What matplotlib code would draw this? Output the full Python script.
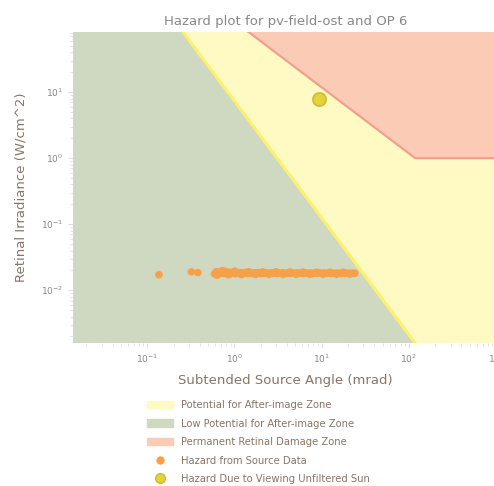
import numpy as np
import matplotlib.pyplot as plt
from matplotlib.patches import Patch
from matplotlib.lines import Line2D

# glare data: subtended source angle (mrad) and retinal irradiance (W/cm^2)
glare_angle = [0.136, 0.32, 0.38,
               0.59, 0.62, 0.66, 0.70, 0.74, 0.78, 0.82, 0.87, 0.92, 0.97,
               1.02, 1.08, 1.14, 1.20, 1.27, 1.34, 1.42, 1.50, 1.58, 1.67,
               1.76, 1.86, 1.97, 2.08, 2.2, 2.32, 2.45, 2.6, 2.75, 2.9, 3.05,
               3.25, 3.45, 3.65, 3.85, 4.1, 4.35, 4.6, 4.9, 5.2, 5.5, 5.8,
               6.2, 6.6, 7.0, 7.4, 7.9, 8.4, 8.9, 9.5, 10.1, 10.7, 11.4, 12.1,
               12.9, 13.7, 14.6, 15.5, 16.5, 17.6, 18.7, 19.9, 21.2, 22.6, 24.0,
               0.63, 0.72, 0.85, 1.0, 1.2, 1.45, 1.75, 2.1, 2.5, 3.0, 3.6,
               4.3, 5.1, 6.1, 7.3, 8.7, 10.4, 12.4, 14.8, 17.6, 21.0]
glare_irr = [0.0172, 0.0190, 0.0185,
             0.0178, 0.0192, 0.0176, 0.0190, 0.0180, 0.0194, 0.0177, 0.0188,
             0.0179, 0.0186, 0.0178, 0.0187, 0.0180, 0.0185, 0.0179, 0.0186,
             0.0180, 0.0185, 0.0179, 0.0184, 0.0180, 0.0185, 0.0179, 0.0184,
             0.0180, 0.0184, 0.0179, 0.0184, 0.0180, 0.0184, 0.0179, 0.0183,
             0.0180, 0.0184, 0.0179, 0.0183, 0.0180, 0.0184, 0.0179, 0.0183,
             0.0180, 0.0183, 0.0179, 0.0183, 0.0180, 0.0183, 0.0179, 0.0183,
             0.0180, 0.0183, 0.0179, 0.0183, 0.0180, 0.0183, 0.0179, 0.0182,
             0.0180, 0.0183, 0.0179, 0.0182, 0.0180, 0.0182, 0.0180, 0.0182,
             0.0181,
             0.0170, 0.0198, 0.0172, 0.0195, 0.0173, 0.0191, 0.0174, 0.0190,
             0.0174, 0.0190, 0.0174, 0.0189, 0.0175, 0.0189, 0.0175, 0.0188,
             0.0175, 0.0188, 0.0175, 0.0188, 0.0176]

# unfiltered sun
sun_angle = [9.3]
sun_irr = [8.0]

# thresholds
flash_coef, flash_exp = 3.59e-5, 1.77   # after-image, omega in rad
burn_coef, burn_kink = 118.0, 118.0      # retinal burn, omega in mrad

xlim = (10 ** -1.85, 10 ** 3.02)
ylim = (10 ** -2.8, 10 ** 1.91)

txt = '#8a7566'
fig = plt.figure(figsize=(4.94, 4.86), dpi=100)
ax = fig.add_axes([0.148, 0.294, 0.86, 0.64])
ax.set_xscale('log')
ax.set_yscale('log')

w = np.logspace(-2, 3.2, 400)
flash = flash_coef * (w / 1000.0) ** (-flash_exp)
burn = np.where(w < burn_kink, burn_coef / w, 1.0)

ax.fill_between(w, 1e-4, flash, color='#cfd9c2', lw=0, zorder=1)
ax.fill_between(w, flash, burn, where=flash < burn, color='#fffac4', lw=0, zorder=1)
ax.fill_between(w, burn, 1e4, color='#fbcbb5', lw=0, zorder=1)
ax.fill_between(w, np.minimum(flash, burn), 1e4, where=flash > burn,
                color='#fbcbb5', lw=0, zorder=1)
ax.plot(w, flash, color='#fff06a', lw=2.2, zorder=2)
ax.plot(w, burn, color='#f0a08c', lw=1.6, zorder=2)

ax.scatter(glare_angle, glare_irr, s=30, color='#f7a04a', edgecolors='none', zorder=3)
ax.scatter(sun_angle, sun_irr, s=90, color='#e3d33c', edgecolors='#cfbc2e',
           lw=1.2, zorder=4)

ax.set_xlim(*xlim)
ax.set_ylim(*ylim)
for s in ax.spines.values():
    s.set_visible(False)
ax.tick_params(which='both', colors='#dddddd', labelcolor='#888888', labelsize=6.5)

ax.set_title('Hazard plot for pv-field-ost and OP 6', fontsize=9.5, color='#888888', pad=5)
ax.set_xlabel('Subtended Source Angle (mrad)', fontsize=9.5, color=txt, labelpad=6)
ax.set_ylabel('Retinal Irradiance (W/cm^2)', fontsize=9.5, color=txt, labelpad=10)

handles = [
    Patch(color='#fffac4', label='Potential for After-image Zone'),
    Patch(color='#cfd9c2', label='Low Potential for After-image Zone'),
    Patch(color='#fbcbb5', label='Permanent Retinal Damage Zone'),
    Line2D([], [], ls='none', marker='o', ms=5, color='#f7a04a', label='Hazard from Source Data'),
    Line2D([], [], ls='none', marker='o', ms=7, color='#e3d33c', mec='#cfbc2e',
           label='Hazard Due to Viewing Unfiltered Sun'),
]
leg = fig.legend(handles=handles, loc='upper left', bbox_to_anchor=(0.29, 0.185),
                 frameon=False, fontsize=7.2, labelspacing=0.85, handlelength=2.6,
                 handleheight=0.8, borderaxespad=0)
for t in leg.get_texts():
    t.set_color(txt)

fig.savefig('out.png', dpi=100)
